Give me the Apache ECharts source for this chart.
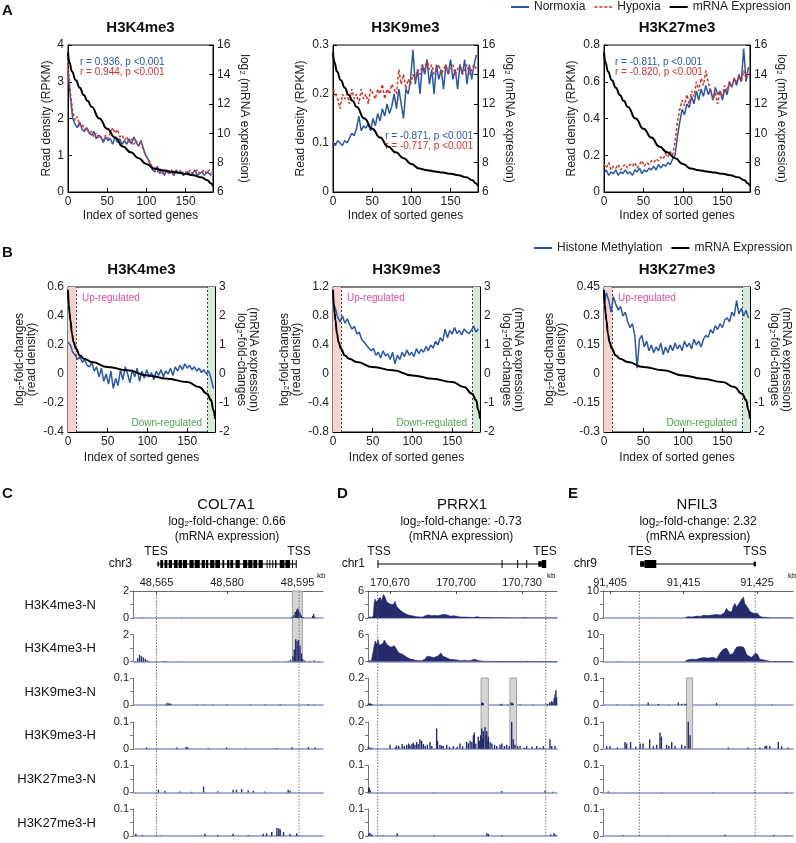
<!DOCTYPE html>
<html>
<head>
<meta charset="utf-8">
<script src="https://cdn.jsdelivr.net/npm/echarts@6/dist/echarts.min.js"></script>
<style>
html, body { margin: 0; padding: 0; background: #fff; }
#main { width: 796px; height: 843px; }
</style>
</head>
<body>
<div id="main"></div>
<script>
// ---------- data ----------
const STEP = 3;          // profiles sampled every 3rd gene
const GENES = 185;

// panel A: read density (RPKM) along genes sorted by expression
const k4Norm = [3.3,2.6,2.0,1.85,1.75,1.9,1.7,1.65,1.75,1.6, 1.55,1.65,1.45,1.55,1.5,1.35,1.5,1.4,1.45,1.3, 1.5,1.35,1.45,1.3,1.4,1.3,1.45,1.3,1.5,1.35, 1.25,1.4,1.2,1.0,0.9,0.75,0.6,0.55,0.7,0.5, 0.6,0.45,0.6,0.5,0.55,0.45,0.6,0.5,0.55,0.45, 0.5,0.55,0.45,0.5,0.6,0.45,0.5,0.55,0.45,0.55, 0.5,0.45];
const k4Hyp = [3.5,2.7,2.2,1.95,2.05,1.8,1.85,1.7,1.75,1.6, 1.65,1.5,1.6,1.45,1.5,1.4,1.55,1.45,1.6,1.75, 1.6,1.7,1.5,1.55,1.4,1.5,1.35,1.45,1.3,1.4, 1.25,1.35,1.15,1.0,0.9,0.8,0.65,0.6,0.55,0.65, 0.5,0.6,0.5,0.55,0.6,0.45,0.55,0.5,0.6,0.5, 0.55,0.5,0.6,0.5,0.55,0.6,0.5,0.55,0.6,0.5, 0.6,0.5];
const k9Norm = [0.1,0.095,0.105,0.1,0.095,0.105,0.1,0.11,0.12,0.115, 0.13,0.155,0.125,0.135,0.13,0.14,0.125,0.15,0.135,0.16, 0.145,0.17,0.155,0.18,0.16,0.175,0.2,0.17,0.21,0.18, 0.15,0.21,0.2,0.23,0.29,0.22,0.25,0.2,0.26,0.24, 0.27,0.22,0.25,0.2,0.26,0.23,0.25,0.21,0.26,0.24, 0.27,0.23,0.25,0.21,0.26,0.24,0.27,0.22,0.26,0.23, 0.26,0.28];
const k9Hyp = [0.21,0.2,0.19,0.17,0.2,0.19,0.2,0.18,0.21,0.19, 0.2,0.18,0.21,0.19,0.2,0.18,0.21,0.2,0.19,0.21, 0.2,0.22,0.19,0.21,0.2,0.22,0.21,0.2,0.25,0.22, 0.24,0.21,0.23,0.22,0.24,0.23,0.25,0.24,0.26,0.25, 0.27,0.25,0.26,0.24,0.25,0.26,0.24,0.25,0.26,0.24, 0.25,0.26,0.24,0.25,0.26,0.24,0.25,0.26,0.24,0.25, 0.26,0.25];
const k27Norm = [0.1,0.12,0.09,0.11,0.1,0.12,0.09,0.11,0.1,0.12, 0.1,0.11,0.09,0.12,0.11,0.13,0.1,0.12,0.11,0.13, 0.12,0.14,0.12,0.15,0.13,0.15,0.14,0.16,0.15,0.18, 0.2,0.3,0.38,0.45,0.42,0.48,0.46,0.52,0.48,0.55, 0.5,0.56,0.52,0.58,0.53,0.56,0.5,0.57,0.53,0.55, 0.5,0.56,0.53,0.6,0.57,0.62,0.58,0.64,0.6,0.78, 0.6,0.68];
const k27Hyp = [0.15,0.13,0.16,0.12,0.14,0.13,0.15,0.12,0.14,0.15, 0.13,0.15,0.14,0.16,0.13,0.15,0.17,0.14,0.16,0.15, 0.17,0.16,0.18,0.17,0.19,0.18,0.21,0.19,0.22,0.2, 0.27,0.38,0.45,0.5,0.47,0.53,0.48,0.55,0.52,0.6, 0.55,0.62,0.58,0.66,0.6,0.55,0.5,0.54,0.48,0.55, 0.52,0.58,0.55,0.6,0.57,0.62,0.6,0.63,0.6,0.66, 0.62,0.65];
const mrnaX = [0,2,5,10,15,20,25,30,40,50,60,70,80,90,100,110,120,130,140,150,160,170,178,182,185];
const mrnaLevel = [15.5,14.8,14.2,13.6,13.1,12.6,12.2,11.8,11.0,10.3,9.7,9.1,8.7,8.3,7.9,7.6,7.48,7.4,7.32,7.24,7.14,7.0,6.8,6.6,6.4];

// panel B: log2 fold changes (hypoxia / normoxia)
const k4Fold = [0.22,0.2,0.15,0.13,0.1,0.12,0.08,0.1,0.06,0.05, 0.08,0.02,0.05,-0.02,0.04,-0.05,0,-0.07,0.02,-0.1, -0.03,-0.08,0.03,-0.04,0.05,0,-0.06,0.03,-0.02,0.04, -0.05,0.02,-0.03,0.03,-0.02,0.01,-0.04,0.02,-0.01,0.03, -0.02,0.02,0,0.04,-0.01,0.05,0.02,0.06,0.03,0.07, 0.04,0.06,0.03,0.05,0.02,0.04,0.01,0.03,0,0.02, -0.03,-0.1];
const k9Fold = [1.0,0.9,0.78,0.72,0.8,0.7,0.76,0.68,0.62,0.66, 0.55,0.58,0.48,0.44,0.4,0.36,0.32,0.35,0.26,0.3, 0.22,0.32,0.25,0.28,0.2,0.3,0.14,0.26,0.2,0.3, 0.24,0.33,0.26,0.3,0.24,0.35,0.28,0.34,0.3,0.38, 0.32,0.4,0.36,0.45,0.4,0.5,0.45,0.62,0.5,0.6, 0.55,0.64,0.56,0.6,0.54,0.62,0.58,0.56,0.6,0.66, 0.58,0.62];
const k27Fold = [0.36,0.42,0.38,0.32,0.4,0.36,0.33,0.35,0.3,0.32, 0.27,0.24,0.26,0.2,0.03,0.18,0.2,0.14,0.17,0.12, 0.15,0.11,0.14,0.12,0.16,0.1,0.14,0.11,0.15,0.12, 0.16,0.13,0.15,0.12,0.17,0.14,0.16,0.13,0.18,0.15, 0.17,0.14,0.18,0.2,0.19,0.23,0.21,0.25,0.23,0.26, 0.24,0.28,0.29,0.27,0.32,0.3,0.38,0.31,0.34,0.3, 0.33,0.29];
const mrnaFoldX = [0,1,2,3,5,7,10,15,20,30,50,75,100,125,150,165,175,180,183,185];
const mrnaFold = [2.9,2.4,2.1,1.85,1.4,1.1,0.87,0.64,0.53,0.41,0.24,0.13,-0.05,-0.16,-0.28,-0.45,-0.68,-0.9,-1.25,-1.54];
const upCut = 11, downCut = 175;

// panels C-E: genome tracks, positions in kb
const trackNames = ['H3K4me3-N','H3K4me3-H','H3K9me3-N','H3K9me3-H','H3K27me3-N','H3K27me3-H'];

const col7a1Max = [2,2,0.1,0.1,0.1,0.1];
const col7a1K4N = [[48562.0,0.03],[48570.3,0.03],[48593.8,0.08],[48594.2,0.2],[48594.5,0.45],[48594.8,0.6],[48595.0,0.7],[48595.2,0.55],[48595.5,0.4],[48595.8,0.2],[48596.2,0.05],[48598.2,0.15],[48598.4,0.3],[48598.6,0.1]];
const col7a1K4H = [[48560.6,0.05],[48561.0,0.25],[48561.4,0.5],[48561.8,0.4],[48562.2,0.3],[48562.6,0.2],[48563.0,0.1],[48563.4,0.05],[48566.5,0.05],[48567.0,0.04],[48569.5,0.02],[48591.0,0.03],[48593.0,0.06],[48593.5,0.15],[48594.0,0.4],[48594.3,0.9],[48594.6,1.65],[48594.9,1.5],[48595.2,1.6],[48595.5,1.2],[48595.8,0.6],[48596.1,0.2],[48596.5,0.08],[48597.5,0.05],[48598.5,0.08],[48599.5,0.04]];
const col7a1K9N = [[48567.2,0.008],[48567.6,0.007],[48568.0,0.006],[48573.5,0.002],[48575.0,0.002],[48577.0,0.002],[48579.9,0.002],[48585.0,0.002],[48588.0,0.002],[48591.3,0.003],[48597.3,0.003],[48598.5,0.002]];
const col7a1K9H = [[48562.9,0.005],[48569.3,0.005],[48571.3,0.008],[48571.6,0.006],[48576.0,0.003],[48579.9,0.005],[48584.0,0.002],[48590.6,0.003],[48593.8,0.006],[48597.3,0.006],[48598.7,0.005]];
const col7a1K27N = [[48565.4,0.01],[48566.8,0.005],[48570.0,0.003],[48572.5,0.002],[48575.0,0.022],[48578.0,0.004],[48581.3,0.01],[48582.0,0.01],[48583.1,0.012],[48584.5,0.008],[48585.6,0.006],[48588.0,0.003],[48593.0,0.01],[48593.4,0.006]];
const col7a1K27H = [[48560.6,0.008],[48562.0,0.003],[48566.0,0.002],[48575.3,0.008],[48578.0,0.004],[48581.3,0.008],[48584.5,0.004],[48587.7,0.008],[48588.4,0.01],[48589.5,0.015],[48590.6,0.03],[48591.0,0.028],[48591.3,0.025],[48592.0,0.015],[48593.4,0.008],[48594.8,0.01]];
const col7a1Exons = [[48565.2,48565.5,0.6],[48565.8,48566.4,1],[48566.7,48567.3,1],[48567.6,48568.3,1],[48568.7,48569.5,1],[48569.7,48570.4,1],[48570.6,48571.5,1],[48572.0,48572.9,1],[48573.1,48574.2,1],[48574.6,48575.3,1],[48575.5,48576.0,1],[48576.4,48577.3,1],[48577.5,48578.5,1],[48579.0,48579.4,1],[48580.0,48580.5,1],[48580.7,48581.3,1],[48581.8,48582.7,1],[48583.4,48584.3,1],[48584.5,48585.4,1],[48585.6,48586.4,1],[48586.7,48587.6,1],[48588.4,48588.6,1],[48589.0,48589.2,1],[48589.6,48589.8,1],[48590.2,48590.5,1],[48591.2,48592.2,1],[48592.4,48593.4,1],[48593.8,48594.0,1],[48594.6,48594.75,1]];

const prrx1Max = [6,6,0.2,0.2,0.1,0.1];
const prrx1K4NBroad = [[170661.5,0],[170662.4,0.5],[170662.8,3.2],[170663.2,4.2],[170663.8,3.6],[170664.3,4.0],[170664.7,3.3],[170665.5,4.6],[170666.2,3.8],[170667.0,5.2],[170667.7,4.7],[170668.5,3.6],[170669.2,3.9],[170670.0,3.1],[170670.8,3.4],[170671.5,3.0],[170672.3,3.7],[170673.0,2.6],[170673.8,2.2],[170674.5,1.8],[170675.3,1.6],[170676.1,1.2],[170677.0,1.0],[170677.6,0.8],[170678.5,0.7],[170679.1,0.6],[170680.0,0.4],[170680.6,0.45],[170682.0,0.3],[170683.6,0.25],[170685.0,0.2],[170686.0,0.5],[170686.7,0.9],[170687.5,0.7],[170688.2,0.8],[170689.0,0.5],[170690.0,0.6],[170690.5,0.7],[170691.5,0.5],[170692.7,0.6],[170693.5,1.0],[170694.2,0.8],[170695.0,1.1],[170695.8,0.7],[170696.5,0.8],[170697.5,0.4],[170698.8,0.5],[170700.3,0.4],[170701.8,0.25],[170703.0,0.2],[170704.8,0.2],[170706.4,0.15],[170707.9,0.1],[170709.4,0.3],[170710.1,0.2],[170711.5,0.1],[170714.0,0.1],[170717.0,0.05],[170720.0,0.03],[170723.0,0.03],[170725.5,0],[170730.0,0],[170730.6,0.25],[170731.2,0.1],[170732.5,0],[170745.9,0]];
const prrx1K4N = [[170660.5,0.2],[170661.0,0.35]];
const prrx1K4HBroad = [[170661.5,0],[170662.3,0.4],[170662.8,3.5],[170663.3,4.6],[170663.9,3.8],[170664.5,4.9],[170665.2,3.6],[170666.0,3.3],[170666.8,4.1],[170667.4,4.8],[170668.1,4.4],[170668.8,3.7],[170669.6,3.9],[170670.4,3.2],[170671.2,3.0],[170672.0,3.5],[170672.8,3.3],[170673.4,2.4],[170674.2,1.9],[170675.0,2.0],[170675.8,1.6],[170676.6,1.3],[170677.5,1.0],[170678.3,0.8],[170679.2,0.6],[170680.2,0.5],[170681.5,0.3],[170683.0,0.25],[170684.5,0.2],[170686.0,0.6],[170686.8,1.2],[170687.5,1.6],[170688.2,1.1],[170689.0,0.8],[170689.8,0.9],[170690.6,0.7],[170691.6,1.2],[170692.4,1.5],[170693.2,1.9],[170694.0,1.2],[170694.8,1.6],[170695.6,0.9],[170696.4,1.0],[170697.2,0.5],[170698.0,0.7],[170699.5,0.4],[170701.0,0.3],[170702.5,0.2],[170704.0,0.3],[170705.5,0.15],[170707.0,0.3],[170708.3,0.5],[170709.0,0.3],[170710.5,0.2],[170712.5,0.1],[170715.0,0.05],[170720.0,0.03],[170725.5,0],[170731.0,0],[170731.5,0.35],[170732.2,0.1],[170733.5,0],[170745.9,0]];
const prrx1K4H = [[170660.4,0.25],[170660.9,0.3]];
const prrx1K9N = [[170660.2,0.012],[170660.6,0.01],[170661.0,0.015],[170661.7,0.008],[170666.0,0.003],[170690.0,0.002],[170711.7,0.02],[170712.1,0.018],[170712.4,0.012],[170720.0,0.005],[170720.8,0.01],[170723.5,0.004],[170725.0,0.02],[170725.5,0.018],[170726.0,0.01],[170729.1,0.005],[170735.0,0.003],[170741.5,0.01],[170742.5,0.02],[170743.3,0.03],[170744.0,0.025],[170744.6,0.05],[170745.0,0.08],[170745.4,0.11],[170745.7,0.06]];
const prrx1K9H = [[170660.2,0.015],[170660.9,0.01],[170661.7,0.008],[170670.0,0.03],[170672.5,0.01],[170673.0,0.025],[170674.0,0.02],[170675.5,0.035],[170676.5,0.02],[170677.6,0.03],[170678.5,0.04],[170679.1,0.025],[170680.0,0.035],[170680.6,0.045],[170681.3,0.03],[170682.1,0.05],[170682.8,0.035],[170683.6,0.07],[170684.4,0.06],[170685.2,0.035],[170686.0,0.02],[170687.0,0.03],[170688.2,0.05],[170689.0,0.02],[170691.2,0.15],[170691.6,0.06],[170692.7,0.03],[170693.5,0.025],[170694.2,0.02],[170695.8,0.03],[170697.0,0.015],[170698.8,0.02],[170700.5,0.015],[170701.8,0.04],[170703.0,0.02],[170704.8,0.05],[170705.6,0.04],[170706.4,0.06],[170707.2,0.05],[170707.9,0.1],[170708.3,0.12],[170709.0,0.04],[170710.1,0.09],[170710.6,0.06],[170711.2,0.1],[170711.7,0.15],[170712.1,0.08],[170712.4,0.13],[170713.2,0.16],[170713.6,0.1],[170714.0,0.13],[170714.5,0.06],[170714.7,0.09],[170715.5,0.05],[170716.3,0.04],[170717.5,0.03],[170718.5,0.02],[170720.0,0.03],[170720.8,0.04],[170722.0,0.02],[170723.0,0.03],[170724.2,0.02],[170725.3,0.2],[170726.0,0.07],[170726.8,0.03],[170728.0,0.02],[170729.1,0.02],[170731.0,0.01],[170732.1,0.02],[170734.5,0.015],[170736.7,0.02],[170738.2,0.01],[170739.7,0.02],[170742.7,0.07],[170743.5,0.02],[170745.0,0.02]];
const prrx1K27N = [[170660.3,0.02],[170660.6,0.015],[170661.0,0.008],[170690.0,0.001],[170720.8,0.005],[170740.5,0.005],[170744.0,0.002]];
const prrx1K27H = [[170660.3,0.008],[170660.9,0.012],[170661.7,0.006],[170667.0,0.002],[170673.3,0.01],[170690.0,0.003],[170714.0,0.01],[170714.7,0.008],[170721.0,0.003],[170743.0,0.006],[170744.5,0.01],[170745.3,0.005]];
const prrx1Exons = [[170664.3,170664.6,1],[170720.7,170721.0,1],[170727.8,170728.1,1],[170731.9,170732.2,1],[170737.4,170739.0,0.7],[170739.0,170741.0,1]];

const nfil3Max = [10,10,0.1,0.1,0.1,0.1];
const nfil3K4NBroad = [[91415.2,0],[91415.6,0.5],[91416.2,0.4],[91416.8,0.7],[91417.3,0.6],[91417.7,1.0],[91418.3,0.9],[91419.0,1.1],[91419.5,1.3],[91420.0,1.1],[91420.4,1.6],[91420.65,2.4],[91420.85,3.6],[91421.1,2.6],[91421.3,2.9],[91421.55,2.2],[91421.75,4.2],[91422.0,5.4],[91422.25,4.0],[91422.45,5.0],[91422.7,6.0],[91422.9,6.9],[91423.15,7.8],[91423.35,5.4],[91423.6,5.8],[91423.8,3.6],[91424.05,2.4],[91424.3,3.0],[91424.5,1.8],[91424.75,2.4],[91425.05,1.8],[91425.4,0.6],[91425.8,0.3],[91426.3,0.2],[91426.8,0],[91429.9,0]];
const nfil3K4N = [[91408.0,0.1],[91411.0,0.1],[91428.0,0.1]];
const nfil3K4HBroad = [[91415.2,0],[91415.5,0.6],[91416.1,0.9],[91416.7,0.8],[91417.25,1.2],[91417.7,1.5],[91418.3,1.3],[91419.05,1.6],[91419.5,1.0],[91419.95,3.1],[91420.4,4.6],[91420.85,5.0],[91421.1,3.8],[91421.3,2.5],[91421.55,1.9],[91421.75,3.0],[91422.0,4.4],[91422.25,5.4],[91422.7,5.6],[91422.9,5.9],[91423.15,5.4],[91423.35,4.4],[91423.6,2.5],[91423.8,1.9],[91424.25,1.5],[91424.75,3.1],[91425.05,2.8],[91425.4,0.9],[91426.3,0.4],[91426.8,0],[91429.9,0]];
const nfil3K4H = [[91406.0,0.1],[91427.5,0.15]];
const nfil3K9N = [[91406.0,0.002],[91408.0,0.002],[91410.2,0.01],[91411.6,0.005],[91413.0,0.002],[91414.3,0.01],[91414.75,0.005],[91415.2,0.005],[91415.4,0.003],[91419.5,0.008],[91427.0,0.002]];
const nfil3K9H = [[91404.55,0.01],[91405.0,0.01],[91406.0,0.005],[91407.04,0.025],[91407.27,0.02],[91407.8,0.025],[91408.5,0.008],[91409.1,0.02],[91409.5,0.02],[91410.4,0.035],[91410.9,0.01],[91411.35,0.015],[91411.8,0.06],[91412.0,0.045],[91412.7,0.015],[91413.0,0.01],[91413.4,0.025],[91413.85,0.01],[91414.75,0.015],[91415.2,0.01],[91415.65,0.105],[91415.9,0.05],[91421.1,0.005],[91423.8,0.005],[91425.4,0.005],[91426.1,0.01],[91426.3,0.012],[91426.75,0.01],[91427.9,0.025],[91428.35,0.01],[91429.25,0.005]];
const nfil3K27N = [[91404.77,0.003],[91408.0,0.001],[91412.0,0.001],[91419.0,0.001],[91424.7,0.002],[91429.0,0.002]];
const nfil3K27H = [[91406.8,0.003],[91409.0,0.001],[91413.0,0.001],[91420.65,0.005],[91427.25,0.004],[91429.0,0.002]];
const nfil3Exons = [[91409.1,91409.7,0.7],[91409.7,91411.3,1],[91424.55,91424.85,0.6]];

// ---------- chart ----------
const FONT = '"Liberation Sans", Arial, Helvetica, sans-serif';
const BLUE = '#2a58a8', RED = '#d6352f', NAVY = '#272b6c';
const SUB = { s: { fontSize: 8, verticalAlign: 'bottom', fontFamily: FONT } };
const DASH_ICON = 'path://M0,0h4v2h-4z M6,0h4v2h-4z M12,0h4v2h-4z M18,0h4v2h-4z';

const chart = echarts.init(document.getElementById('main'));
const grid = [], xAxis = [], yAxis = [], series = [], graphic = [];

function text(x, y, str, size, extra) {
    graphic.push({
        type: 'text', x: x, y: y, silent: true,
        style: Object.assign({
            text: str, fontSize: size, fontFamily: FONT, fill: '#111',
            align: 'left', verticalAlign: 'middle',
            textAlign: 'left', textVerticalAlign: 'middle', rich: SUB
        }, extra || {})
    });
}
function center(x, y, str, size, extra) {
    text(x, y, str, size, Object.assign({ align: 'center', textAlign: 'center' }, extra || {}));
}
function right(x, y, str, size, extra) {
    text(x, y, str, size, Object.assign({ align: 'right', textAlign: 'right' }, extra || {}));
}

function valueAxis(extra) {
    return Object.assign({
        type: 'value',
        axisLine: { onZero: false, lineStyle: { color: '#000', width: 1 } },
        axisTick: { inside: true, length: 4, lineStyle: { color: '#000' } },
        axisLabel: { fontSize: 12, color: '#222', margin: 4, fontFamily: FONT },
        splitLine: { show: false },
        nameTextStyle: { fontSize: 12, color: '#222', fontFamily: FONT, rich: SUB }
    }, extra);
}

function profilePanel(p) {
    const g = grid.length;
    grid.push({ left: p.left, top: p.top, width: p.width, height: p.height,
        show: true, borderColor: '#000', borderWidth: 1 });
    const xi = xAxis.length;
    xAxis.push(valueAxis({ gridIndex: g, min: 0, max: GENES, interval: 50,
        name: 'Index of sorted genes', nameLocation: 'middle', nameGap: p.xGap,
        axisLabel: { fontSize: 12, color: '#222', margin: 4, showMaxLabel: false } }));
    const yl = yAxis.length;
    yAxis.push(valueAxis({ gridIndex: g, position: 'left', min: p.yMin, max: p.yMax, interval: p.yInt,
        name: p.yName, nameLocation: 'middle', nameGap: p.yGap, nameRotate: 90 }));
    yAxis.push(valueAxis({ gridIndex: g, position: 'right', min: p.rMin, max: p.rMax, interval: p.rInt,
        name: p.rName, nameLocation: 'middle', nameGap: p.rGap, nameRotate: -90 }));
    center(p.left + p.width / 2, p.top - 17, p.title, 15, { fontWeight: 'bold' });
    return { xi: xi, yl: yl, yr: yl + 1 };
}

function sampled(arr) {
    return arr.map((v, i) => [i * STEP, v]);
}

// panel A
const panelA = [
    { left: 68, width: 145, title: 'H3K4me3', norm: k4Norm, hyp: k4Hyp, yMax: 4, yInt: 1, yGap: 15 },
    { left: 333, width: 145, title: 'H3K9me3', norm: k9Norm, hyp: k9Hyp, yMax: 0.3, yInt: 0.1, yGap: 26 },
    { left: 604, width: 146, title: 'H3K27me3', norm: k27Norm, hyp: k27Hyp, yMax: 0.8, yInt: 0.2, yGap: 26 }
];
panelA.forEach(p => {
    const ax = profilePanel({ left: p.left, top: 45, width: p.width, height: 147, title: p.title,
        yMin: 0, yMax: p.yMax, yInt: p.yInt, yName: 'Read density (RPKM)', yGap: p.yGap,
        rMin: 6, rMax: 16, rInt: 2, rName: 'log{s|2} (mRNA expression)', rGap: 25, xGap: 18 });
    series.push({ type: 'line', name: 'Normoxia', xAxisIndex: ax.xi, yAxisIndex: ax.yl,
        data: sampled(p.norm), symbol: 'none', color: BLUE, lineStyle: { width: 1.5, color: BLUE }, z: 3 });
    series.push({ type: 'line', name: 'Hypoxia', xAxisIndex: ax.xi, yAxisIndex: ax.yl,
        data: sampled(p.hyp), symbol: 'none', color: RED, lineStyle: { width: 1.5, color: RED, type: [3, 2] }, z: 4 });
    series.push({ type: 'line', name: 'mRNA Expression', xAxisIndex: ax.xi, yAxisIndex: ax.yr,
        data: mrnaX.map((x, i) => [x, mrnaLevel[i]]), symbol: 'none', smooth: true, smoothMonotone: 'x',
        color: '#000', lineStyle: { width: 2, color: '#000' }, z: 5 });
});
text(80, 62, 'r = 0.936, p <0.001', 10, { fill: BLUE });
text(80, 72, 'r = 0.944, p <0.001', 10, { fill: RED });
right(473, 136, 'r = -0.871, p <0.001', 10, { fill: BLUE });
right(473, 146, 'r = -0.717, p <0.001', 10, { fill: RED });
text(615, 62, 'r = -0.811, p <0.001', 10, { fill: BLUE });
text(615, 72, 'r = -0.820, p <0.001', 10, { fill: RED });

// panel B
const panelB = [
    { left: 68, width: 147, title: 'H3K4me3', fold: k4Fold, yMin: -0.4, yMax: 0.6, yInt: 0.2, yGap: 30, rGap: 20 },
    { left: 333, width: 147, title: 'H3K9me3', fold: k9Fold, yMin: -0.8, yMax: 1.2, yInt: 0.4, yGap: 30, rGap: 20 },
    { left: 604, width: 146, title: 'H3K27me3', fold: k27Fold, yMin: -0.3, yMax: 0.45, yInt: 0.15, yGap: 36, rGap: 18 }
];
panelB.forEach(p => {
    const ax = profilePanel({ left: p.left, top: 287, width: p.width, height: 145, title: p.title,
        yMin: p.yMin, yMax: p.yMax, yInt: p.yInt, yName: 'log{s|2}-fold-changes\n(read density)', yGap: p.yGap,
        rMin: -2, rMax: 3, rInt: 1, rName: '(mRNA expression)\nlog{s|2}-fold-changes', rGap: p.rGap, xGap: 20 });
    const mrna = mrnaFoldX.map((x, i) => [x, mrnaFold[i]]);
    series.push({ type: 'line', xAxisIndex: ax.xi, yAxisIndex: ax.yr, data: mrna, symbol: 'none',
        lineStyle: { opacity: 0 }, silent: true, z: 1,
        markArea: { silent: true, data: [
            [{ xAxis: 0, itemStyle: { color: '#f6d3d0' } }, { xAxis: upCut }],
            [{ xAxis: downCut, itemStyle: { color: '#d6ead8' } }, { xAxis: GENES }]
        ] },
        markLine: { silent: true, symbol: 'none', label: { show: false },
            lineStyle: { type: [2, 2], color: '#444', width: 1, opacity: 1 },
            data: [{ xAxis: upCut }, { xAxis: downCut }] } });
    series.push({ type: 'line', name: 'Histone Methylation', xAxisIndex: ax.xi, yAxisIndex: ax.yl,
        data: sampled(p.fold), symbol: 'none', color: BLUE, lineStyle: { width: 1.5, color: BLUE }, z: 3 });
    series.push({ type: 'line', name: 'mRNA Expression', xAxisIndex: ax.xi, yAxisIndex: ax.yr,
        data: mrna, symbol: 'none', smooth: true, smoothMonotone: 'x',
        color: '#000', lineStyle: { width: 2, color: '#000' }, z: 5 });
    text(p.left + 14, 298, 'Up-regulated', 10, { fill: '#ec4a9c' });
    right(p.left + p.width - 13, 423, 'Down-regulated', 10, { fill: '#4da64f' });
});

// panels C-E
function rectItem(color, stroke) {
    return function (params, api) {
        const s = api.value(0), e = api.value(1), h = api.value(2);
        const p0 = api.coord([s, 0.5 + h / 2]);
        const p1 = api.coord([e, 0.5 - h / 2]);
        return { type: 'rect',
            shape: { x: p0[0], y: p0[1], width: Math.max(p1[0] - p0[0], 1), height: p1[1] - p0[1] },
            style: { fill: color, stroke: stroke || null, lineWidth: stroke ? 1 : 0 } };
    };
}
function hiddenAxes(g, min, max) {
    xAxis.push({ gridIndex: g, type: 'value', min: min, max: max, show: false });
    yAxis.push({ gridIndex: g, type: 'value', min: 0, max: 1, show: false });
    return { xi: xAxis.length - 1, yi: yAxis.length - 1 };
}

const genes = [
    { left: 133, width: 190, min: 48560, max: 48600.4, ticks: [48565, 48580, 48595],
      tes: 48565, tss: 48595.3, box: [[48593.9, 48596.0, 1]], boxTop: 591,
      exons: col7a1Exons, span: [48565.1, 48594.7], maxes: col7a1Max,
      tracks: [[col7a1K4N], [col7a1K4H], [col7a1K9N], [col7a1K9H], [col7a1K27N], [col7a1K27H]] },
    { left: 368, width: 189, min: 170660, max: 170745.9, ticks: [170670, 170700, 170730],
      tes: 170740.8, tss: 170664.4, box: [[170711.4, 170714.7, 1], [170724.5, 170727.5, 1]], boxTop: 678,
      exons: prrx1Exons, span: [170664.4, 170740.5], maxes: prrx1Max,
      tracks: [[prrx1K4N, prrx1K4NBroad], [prrx1K4H, prrx1K4HBroad], [prrx1K9N], [prrx1K9H], [prrx1K27N], [prrx1K27H]] },
    { left: 603, width: 190, min: 91404.05, max: 91429.9, ticks: [91405, 91415, 91425],
      tes: 91409.0, tss: 91424.75, box: [[91415.4, 91416.25, 1]], boxTop: 678,
      exons: nfil3Exons, span: [91409.1, 91424.7], maxes: nfil3Max,
      tracks: [[nfil3K4N, nfil3K4NBroad], [nfil3K4H, nfil3K4HBroad], [nfil3K9N], [nfil3K9H], [nfil3K27N], [nfil3K27H]] }
];

genes.forEach(gn => {
    // highlighted box behind the tracks
    let g = grid.length;
    grid.push({ left: gn.left, width: gn.width, top: gn.boxTop, height: 71 });
    let ax = hiddenAxes(g, gn.min, gn.max);
    series.push({ type: 'custom', xAxisIndex: ax.xi, yAxisIndex: ax.yi, data: gn.box,
        renderItem: rectItem('#d5d5d5', '#a0a0a0'), silent: true, z: 1 });

    gn.tracks.forEach((tr, i) => {
        const bottom = 618 + i * 43.6;
        const max = gn.maxes[i];
        const tg = grid.length;
        grid.push({ left: gn.left, width: gn.width, top: bottom - 27, height: 27 });
        const xi = xAxis.length;
        xAxis.push({ gridIndex: tg, type: 'value', min: gn.min, max: gn.max,
            axisLine: { onZero: false, lineStyle: { color: '#8d93c6', width: 1.5 } },
            axisTick: { show: false }, axisLabel: { show: false }, splitLine: { show: false } });
        if (i === 0) {
            xAxis.push({ gridIndex: tg, type: 'value', position: 'top', min: gn.min, max: gn.max,
                axisLine: { onZero: false, lineStyle: { color: '#444', width: 0.8 } },
                axisTick: { inside: true, length: 3, customValues: gn.ticks, lineStyle: { color: '#444' } },
                axisLabel: { customValues: gn.ticks, fontSize: 11, color: '#222', margin: 3, fontFamily: FONT,
                    formatter: v => v.toLocaleString('en-US') },
                splitLine: { show: false } });
        }
        const yi = yAxis.length;
        yAxis.push({ gridIndex: tg, type: 'value', min: 0, max: max, interval: max / 2,
            axisLine: { show: true, lineStyle: { color: '#777', width: 1 } },
            axisTick: { show: true, length: 3, lineStyle: { color: '#777' } },
            axisLabel: { fontSize: 11, color: '#222', margin: 4, fontFamily: FONT,
                formatter: v => (v === 0 || Math.abs(v - max) < 1e-9) ? String(v === 0 ? 0 : max) : '' },
            splitLine: { show: false } });
        if (tr[1]) {
            series.push({ type: 'line', xAxisIndex: xi, yAxisIndex: yi, data: tr[1], symbol: 'none',
                lineStyle: { width: 0.6, color: NAVY }, areaStyle: { color: NAVY, opacity: 1 }, silent: true, z: 3 });
        }
        series.push({ type: 'bar', xAxisIndex: xi, yAxisIndex: yi, data: tr[0], barWidth: 1.4,
            itemStyle: { color: NAVY }, silent: true, z: 3 });
        if (gn.left === 133) right(96, bottom - 13, trackNames[i], 13, { fill: '#111' });
    });

    // TES / TSS guide lines through all tracks
    g = grid.length;
    grid.push({ left: gn.left, width: gn.width, top: 591, height: 245 });
    ax = hiddenAxes(g, gn.min, gn.max);
    [gn.tes, gn.tss].forEach(pos => {
        series.push({ type: 'line', xAxisIndex: ax.xi, yAxisIndex: ax.yi, data: [[pos, 0], [pos, 1]],
            symbol: 'none', silent: true, lineStyle: { type: [1.5, 1.5], color: '#555', width: 0.8 }, z: 4 });
    });

    // gene model
    g = grid.length;
    grid.push({ left: gn.left, width: gn.width, top: 560, height: 8 });
    ax = hiddenAxes(g, gn.min, gn.max);
    series.push({ type: 'line', xAxisIndex: ax.xi, yAxisIndex: ax.yi,
        data: [[gn.span[0], 0.5], [gn.span[1], 0.5]], symbol: 'none', silent: true,
        lineStyle: { color: '#000', width: 1 } });
    series.push({ type: 'custom', xAxisIndex: ax.xi, yAxisIndex: ax.yi, data: gn.exons,
        renderItem: rectItem('#000'), silent: true, z: 3 });
});

// gene headers
center(226, 505, 'COL7A1', 15);
center(227, 522, 'log{s|2}-fold-change: 0.66', 12);
center(227, 537, '(mRNA expression)', 12);
center(156, 552, 'TES', 12);
center(299, 552, 'TSS', 12);
right(132, 564, 'chr3', 12);
text(317, 576, 'kb', 8);

center(462, 505, 'PRRX1', 15);
center(461, 522, 'log{s|2}-fold-change: -0.73', 12);
center(461, 537, '(mRNA expression)', 12);
center(379, 552, 'TSS', 12);
center(545, 552, 'TES', 12);
right(365, 564, 'chr1', 12);
text(547, 576, 'kb', 8);

center(697, 505, 'NFIL3', 15);
center(698, 522, 'log{s|2}-fold-change: 2.32', 12);
center(698, 537, '(mRNA expression)', 12);
center(640, 552, 'TES', 12);
center(755, 552, 'TSS', 12);
right(597, 564, 'chr9', 12);
text(788, 576, 'kb', 8);

// panel letters
text(2, 11, 'A', 15, { fontWeight: 'bold' });
text(2, 253, 'B', 15, { fontWeight: 'bold' });
text(2, 494, 'C', 15, { fontWeight: 'bold' });
text(337, 494, 'D', 15, { fontWeight: 'bold' });
text(568, 494, 'E', 15, { fontWeight: 'bold' });

const legendText = { fontSize: 12, color: '#222', fontFamily: FONT };
chart.setOption({
    animation: false,
    textStyle: { fontFamily: FONT },
    legend: [
        { left: 511, top: 1, width: 300, padding: 0, itemWidth: 18, itemHeight: 2, itemGap: 9,
          selectedMode: false, textStyle: legendText,
          data: [{ name: 'Normoxia', icon: 'rect' }, { name: 'Hypoxia', icon: DASH_ICON },
                 { name: 'mRNA Expression', icon: 'rect' }] },
        { left: 534, top: 242, width: 300, padding: 0, itemWidth: 18, itemHeight: 2, itemGap: 9,
          selectedMode: false, textStyle: legendText,
          data: [{ name: 'Histone Methylation', icon: 'rect' }, { name: 'mRNA Expression', icon: 'rect' }] }
    ],
    grid: grid,
    xAxis: xAxis,
    yAxis: yAxis,
    series: series,
    graphic: graphic
});
</script>
</body>
</html>
